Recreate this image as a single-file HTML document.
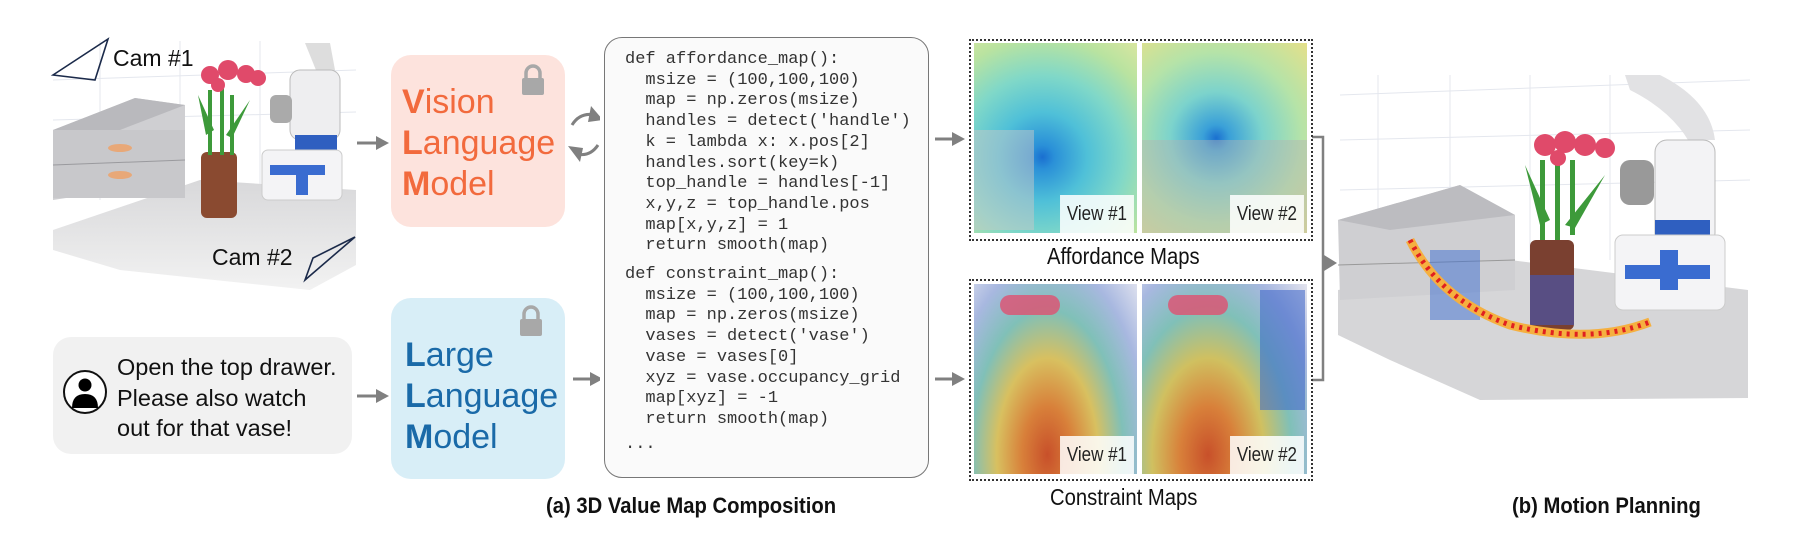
<!DOCTYPE html>
<html><head><meta charset="utf-8"><style>
body{margin:0;width:1796px;height:538px;background:#fff;position:relative;overflow:hidden;font-family:"Liberation Sans",sans-serif}
.a{position:absolute}
.code{position:absolute;left:625px;top:50px;font-family:"Liberation Mono",monospace;font-size:17px;line-height:20.7px;color:#333;white-space:pre}
.lab{position:absolute;background:rgba(255,255,255,0.85);font-size:20px;color:#222;padding:8px 8px;transform:scaleX(0.85);transform-origin:right bottom}
</style></head><body>

<!-- left scene -->
<svg class="a" style="left:0;top:0" width="600" height="538">
  <defs>
    <linearGradient id="fl" x1="0" y1="0" x2="0" y2="1"><stop offset="0" stop-color="#d8d8da"/><stop offset="1" stop-color="#f2f2f2"/></linearGradient>
  </defs>
  <g stroke="#e4e7ee" stroke-width="1">
    <line x1="53" y1="80" x2="356" y2="70"/><line x1="53" y1="120" x2="356" y2="112"/><line x1="100" y1="41" x2="100" y2="200"/><line x1="180" y1="41" x2="180" y2="200"/><line x1="260" y1="41" x2="260" y2="200"/>
  </g>
  <polygon points="53,230 200,180 356,190 356,265 310,290 120,270 53,250" fill="url(#fl)"/>
  <polygon points="53,130 135,98 185,105 185,180 53,200" fill="#cfcfd2"/>
  <polygon points="53,130 135,98 185,105 120,130" fill="#b9b9bd"/>
  <rect x="53" y="130" width="132" height="68" fill="#c8c8cb"/>
  <line x1="53" y1="165" x2="185" y2="160" stroke="#9a9a9e"/>
  <ellipse cx="120" cy="148" rx="12" ry="4" fill="#e8a878"/><ellipse cx="120" cy="175" rx="12" ry="4" fill="#e8a878"/>
  <rect x="201" y="152" width="36" height="66" rx="6" fill="#8a4a30"/>
  <g fill="#3d9a3a"><rect x="208" y="90" width="4" height="65"/><rect x="220" y="85" width="4" height="70"/><rect x="230" y="95" width="4" height="60"/><polygon points="198,95 214,130 206,135"/><polygon points="250,100 226,135 232,138"/></g>
  <g fill="#e04a6a"><circle cx="210" cy="75" r="9"/><circle cx="228" cy="70" r="10"/><circle cx="246" cy="74" r="9"/><circle cx="258" cy="78" r="8"/><circle cx="218" cy="85" r="7"/></g>
  <path d="M305 43 L330 43 L335 70 L320 80 Z" fill="#ddd"/>
  <rect x="290" y="70" width="50" height="70" rx="10" fill="#eeeef0" stroke="#bbb"/>
  <rect x="270" y="95" width="22" height="28" rx="6" fill="#aaa"/>
  <rect x="295" y="135" width="42" height="28" fill="#2f5fc0"/>
  <rect x="262" y="150" width="80" height="50" rx="6" fill="#f4f4f6" stroke="#ccc"/>
  <rect x="270" y="165" width="55" height="10" fill="#3a6cd0"/><rect x="296" y="175" width="12" height="20" fill="#3a6cd0"/>
  <polygon points="53,75 108,39 95,80" fill="none" stroke="#1b2a4a" stroke-width="1.6"/>
  <text x="113" y="66" font-size="23" fill="#111" font-family="Liberation Sans">Cam #1</text>
  <polygon points="355,237 305,280 313,258" fill="none" stroke="#1b2a4a" stroke-width="1.6"/>
  <text x="212" y="265" font-size="23" fill="#111" font-family="Liberation Sans">Cam #2</text>
  <g fill="#808080" stroke="#808080" stroke-width="3">
    <line x1="357" y1="143" x2="378" y2="143"/><polygon points="376,136 389,143 376,150" stroke="none"/>
    <line x1="357" y1="396" x2="378" y2="396"/><polygon points="376,389 389,396 376,403" stroke="none"/>
    <line x1="573" y1="379" x2="592" y2="379"/><polygon points="590,372 603,379 590,386" stroke="none"/>
  </g>
  <g fill="none" stroke="#808080" stroke-width="3">
    <path d="M572 125 Q580 112 595 115"/><path d="M598 145 Q590 157 577 154"/>
  </g>
  <polygon points="591,106 603,120 588,122" fill="#808080"/>
  <polygon points="568,146 580,162 583,148" fill="#808080"/>
</svg>

<!-- VLM -->
<div class="a" style="left:391px;top:55px;width:174px;height:172px;background:#fde3dd;border-radius:20px"></div>
<div class="a" style="left:402px;top:82px;font-size:34px;line-height:41px;color:#f26a3d">
<b>V</b>ision<br><b>L</b>anguage<br><b>M</b>odel</div>
<!-- LLM -->
<div class="a" style="left:391px;top:298px;width:174px;height:181px;background:#d8eef7;border-radius:20px"></div>
<div class="a" style="left:405px;top:335px;font-size:34px;line-height:41px;color:#1a6aa8">
<b>L</b>arge<br><b>L</b>anguage<br><b>M</b>odel</div>
<!-- locks -->
<svg class="a" style="left:520px;top:64px" width="26" height="34"><path d="M6 14 V9 a7 7 0 0 1 14 0 V14" fill="none" stroke="#a8a8a8" stroke-width="3.5"/><rect x="2" y="14" width="22" height="17" rx="2" fill="#a8a8a8"/></svg>
<svg class="a" style="left:518px;top:305px" width="26" height="34"><path d="M6 14 V9 a7 7 0 0 1 14 0 V14" fill="none" stroke="#a8a8a8" stroke-width="3.5"/><rect x="2" y="14" width="22" height="17" rx="2" fill="#a8a8a8"/></svg>

<!-- instruction -->
<div class="a" style="left:53px;top:337px;width:299px;height:117px;background:#f1f1f1;border-radius:18px"></div>
<svg class="a" style="left:62px;top:369px" width="46" height="46"><circle cx="23" cy="23" r="21" fill="#fff" stroke="#111" stroke-width="2"/><circle cx="23" cy="16" r="6.5" fill="#000"/><path d="M10 39 Q10 25 23 25 Q36 25 36 39 Z" fill="#000"/></svg>
<div class="a" style="left:117px;top:352px;font-size:23.5px;line-height:30.5px;color:#111">Open the top drawer.<br>Please also watch<br>out for that vase!</div>

<!-- code box -->
<div class="a" style="left:604px;top:37px;width:323px;height:439px;border:1.5px solid #777;border-radius:18px;background:#fafafa"></div>
<div class="code">def affordance_map():
  msize = (100,100,100)
  map = np.zeros(msize)
  handles = detect('handle')
  k = lambda x: x.pos[2]
  handles.sort(key=k)
  top_handle = handles[-1]
  x,y,z = top_handle.pos
  map[x,y,z] = 1
  return smooth(map)
<span style="display:block;height:8px"></span>def constraint_map():
  msize = (100,100,100)
  map = np.zeros(msize)
  vases = detect('vase')
  vase = vases[0]
  xyz = vase.occupancy_grid
  map[xyz] = -1
  return smooth(map)
<span style="display:block;height:4px"></span>...</div>

<!-- arrows to maps -->
<svg class="a" style="left:930px;top:0" width="420" height="538">
  <g fill="#808080" stroke="#808080" stroke-width="3">
    <line x1="5" y1="139" x2="24" y2="139"/><polygon points="22,132 35,139 22,146" stroke="none"/>
    <line x1="5" y1="379" x2="24" y2="379"/><polygon points="22,372 35,379 22,386" stroke="none"/>
  </g>
  <path d="M382 137 H393 V380 H382 M393 263 H396" fill="none" stroke="#808080" stroke-width="2.5"/>
  <polygon points="394,255 407,263 394,271" fill="#808080"/>
</svg>

<!-- affordance maps -->
<div class="a" style="left:969px;top:39px;width:340px;height:198px;border:2px dotted #333"></div>
<div class="a" style="left:974px;top:43px;width:163px;height:190px;background:radial-gradient(circle at 42% 60%,#1a6fd0 0,#2a90d8 8%,#4fc0d8 30%,#80d8c8 55%,#b9e3a0 80%,#d9e6a0 100%)"></div>
<div class="a" style="left:974px;top:130px;width:60px;height:100px;background:rgba(200,200,200,0.5)"></div>
<div class="a" style="left:1142px;top:43px;width:165px;height:190px;background:radial-gradient(circle at 45% 50%,#1a70d0 0,#3aa0d8 10%,#7cd3cc 35%,#b5e3a8 65%,#e5e08a 100%)"></div>
<div class="a" style="left:1142px;top:140px;width:165px;height:93px;background:rgba(180,180,180,0.45)"></div>
<div class="lab" style="right:662px;top:195px">View #1</div>
<div class="lab" style="right:492px;top:195px">View #2</div>
<div class="a" style="left:1047px;top:243px;font-size:23px;color:#111;transform:scaleX(0.88);transform-origin:left">Affordance Maps</div>

<!-- constraint maps -->
<div class="a" style="left:969px;top:279px;width:340px;height:198px;border:2px dotted #333"></div>
<div class="a" style="left:974px;top:284px;width:163px;height:190px;background:radial-gradient(ellipse at 45% 90%,#c8502a 0,#d8803a 20%,#d8c060 40%,#80c0b8 60%,#a8b8e0 80%,#dde0ee 100%)"></div>
<div class="a" style="left:1142px;top:284px;width:165px;height:190px;background:radial-gradient(ellipse at 40% 90%,#c8502a 0,#d8803a 20%,#d0c060 40%,#80c0b8 60%,#a8b8e0 80%,#e5e5ee 100%)"></div>
<div class="a" style="left:1000px;top:295px;width:60px;height:20px;background:#e05070;border-radius:10px;opacity:.8"></div>
<div class="a" style="left:1168px;top:295px;width:60px;height:20px;background:#e05070;border-radius:10px;opacity:.8"></div>
<div class="a" style="left:1260px;top:290px;width:45px;height:120px;background:rgba(60,100,200,0.55)"></div>
<div class="lab" style="right:662px;top:436px">View #1</div>
<div class="lab" style="right:492px;top:436px">View #2</div>
<div class="a" style="left:1050px;top:484px;font-size:23px;color:#111;transform:scaleX(0.88);transform-origin:left">Constraint Maps</div>

<!-- right scene -->
<svg class="a" style="left:1330px;top:60px" width="440" height="400">
  <g stroke="#e4e7ee"><line x1="10" y1="35" x2="420" y2="20"/><line x1="10" y1="80" x2="420" y2="70"/><line x1="10" y1="130" x2="420" y2="120"/><line x1="48" y1="15" x2="48" y2="200"/><line x1="120" y1="15" x2="120" y2="200"/><line x1="200" y1="15" x2="200" y2="200"/><line x1="280" y1="15" x2="280" y2="200"/></g>
  <polygon points="8,230 180,200 418,230 418,338 150,340 60,300 8,275" fill="#d6d6d8"/>
  <polygon points="8,160 130,125 185,155 185,230 10,240" fill="#cfcfd2"/>
  <polygon points="8,160 130,125 185,155 60,170" fill="#bcbcc0"/>
  <line x1="8" y1="205" x2="185" y2="200" stroke="#999"/>
  <rect x="100" y="190" width="50" height="70" fill="rgba(60,110,210,0.5)"/>
  <rect x="200" y="180" width="44" height="90" rx="6" fill="#7a4030"/>
  <rect x="200" y="215" width="44" height="50" fill="rgba(60,90,200,0.55)"/>
  <g fill="#3d9a3a"><rect x="210" y="100" width="5" height="80"/><rect x="225" y="95" width="5" height="85"/><rect x="240" y="100" width="5" height="75"/><polygon points="195,105 220,160 210,165"/><polygon points="275,115 235,165 245,168"/></g>
  <g fill="#e04a6a"><circle cx="215" cy="85" r="11"/><circle cx="235" cy="82" r="11"/><circle cx="255" cy="85" r="11"/><circle cx="275" cy="88" r="10"/><circle cx="228" cy="98" r="8"/></g>
  <path d="M295 15 L330 15 Q380 40 385 80 L358 80 Q340 50 300 30 Z" fill="#e2e2e4"/>
  <rect x="325" y="80" width="60" height="105" rx="12" fill="#f3f3f5" stroke="#bbb"/>
  <rect x="290" y="100" width="34" height="45" rx="10" fill="#999"/>
  <rect x="325" y="160" width="55" height="40" fill="#2f5fc0"/>
  <rect x="285" y="175" width="110" height="75" rx="8" fill="#f4f4f6" stroke="#ccc"/>
  <rect x="295" y="205" width="85" height="14" fill="#3a6cd0"/><rect x="330" y="190" width="18" height="40" fill="#3a6cd0"/>
  <path d="M80 180 Q110 240 180 265 Q260 285 320 262" fill="none" stroke="#f5b040" stroke-width="9"/>
  <path d="M80 180 Q110 240 180 265 Q260 285 320 262" fill="none" stroke="#e02020" stroke-width="5" stroke-dasharray="3 5"/>
</svg>

<!-- captions -->
<div class="a" style="left:546px;top:493px;font-size:22px;font-weight:bold;color:#111;transform:scaleX(0.92);transform-origin:left">(a) 3D Value Map Composition</div>
<div class="a" style="left:1512px;top:493px;font-size:22px;font-weight:bold;color:#111;transform:scaleX(0.92);transform-origin:left">(b) Motion Planning</div>
</body></html>
